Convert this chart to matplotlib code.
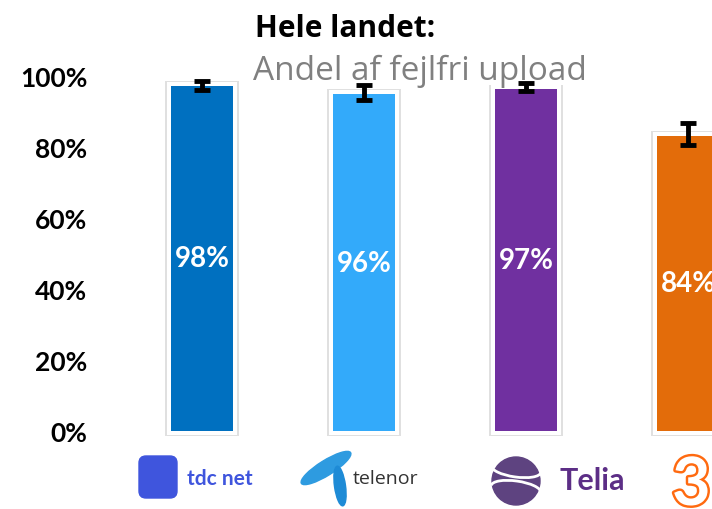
import matplotlib
matplotlib.use("Agg")
import matplotlib.pyplot as plt
import matplotlib.patheffects as pe
from matplotlib.patches import FancyBboxPatch, Ellipse, Circle, Arc

# data
operators = ["tdc net", "telenor", "Telia", "3"]
values = [97.2, 94.9, 96.3, 83.1]
err_low = [96.1, 93.2, 95.8, 80.6]
err_high = [98.6, 97.5, 98.0, 86.8]
bar_labels = ["98%", "96%", "97%", "84%"]
colors = ["#0070C0", "#33AAFA", "#7030A0", "#E36C0A"]
yticks = [0, 20, 40, 60, 80, 100]

W, H = 712, 510
fig = plt.figure(figsize=(W / 100, H / 100), dpi=100)

ax = fig.add_axes([100 / W, 78 / H, 612 / W, 355 / H])
x = list(range(len(operators)))

# soft shadow + white frame behind each bar
ax.bar(x, [v + 2.6 for v in values], bottom=-1.3, width=0.455,
       color="#e0e0e0", zorder=1, clip_on=False)
ax.bar(x, [v + 2.2 for v in values], bottom=-1.1, width=0.437,
       color="white", zorder=2, clip_on=False)
ax.bar(x, values, width=0.383, color=colors, zorder=3)

yerr = [[v - lo for v, lo in zip(values, err_low)],
        [hi - v for v, hi in zip(values, err_high)]]
ax.errorbar(x, values, yerr=yerr, fmt="none", ecolor="black",
            elinewidth=3.5, capsize=5.5, capthick=3.5, zorder=4)

for xi, v, lab in zip(x, values, bar_labels):
    ax.text(xi, v / 2, lab, ha="center", va="center", color="white",
            fontsize=20, fontweight="bold", family="Lato", zorder=5)

ax.set_xlim(-0.63, 3.148)
ax.set_ylim(0, 100)
ax.set_yticks(yticks)
ax.set_yticklabels([f"{t}%" for t in yticks], fontsize=19,
                   fontweight="bold", family="Lato")
ax.tick_params(axis="y", length=0, pad=9)
ax.set_xticks([])
for s in ax.spines.values():
    s.set_visible(False)

# titles
fig.text(255 / W, 1 - 37 / H, "Hele landet:", fontsize=21.5,
         fontweight="bold", family="Open Sans", color="black",
         ha="left", va="baseline")
fig.text(253 / W, 1 - 80 / H, "Andel af fejlfri upload", fontsize=24,
         family="Open Sans", color="#808080", ha="left", va="baseline")

# logos under the bars, drawn in pixel coordinates
lg = fig.add_axes([0, 0, 1, 1], zorder=-1)
lg.set_xlim(0, W)
lg.set_ylim(0, H)
lg.axis("off")


def Y(py):
    return H - py


# tdc net
lg.add_patch(FancyBboxPatch((141, Y(497)), 34, 38,
                            boxstyle="round,pad=2,rounding_size=7",
                            color="#3F55DD"))
lg.text(187, Y(479), "tdc net", fontsize=15, fontweight="bold",
        family="Lato", color="#3F55DD", ha="left", va="center")

# telenor
lg.add_patch(Ellipse((326, Y(469)), 58, 15, angle=32, color="#2E9BE0"))
lg.add_patch(Ellipse((340, Y(487)), 11, 40, angle=8, color="#1E8BD6"))
lg.text(353, Y(479), "telenor", fontsize=14, family="Open Sans",
        color="#333333", ha="left", va="center")

# Telia
lg.add_patch(Circle((516, Y(482)), 24, color="#5E4380"))
lg.add_patch(Arc((516, Y(470)), 50, 16, angle=-8, theta1=180, theta2=360,
                 color="white", lw=2))
lg.add_patch(Arc((516, Y(490)), 50, 16, angle=-8, theta1=0, theta2=180,
                 color="white", lw=2))
lg.text(560, Y(481), "Telia", fontsize=22, fontweight="bold",
        family="Lato", color="#5C2E86", ha="left", va="center")

# 3 (outlined)
lg.text(672, Y(487), "3", fontsize=48, fontweight="bold",
        family="Lato", color="white", ha="left", va="center",
        path_effects=[pe.Stroke(linewidth=3.5, foreground="#FF6A10"),
                      pe.Normal()])

fig.savefig("out.png", dpi=100)
